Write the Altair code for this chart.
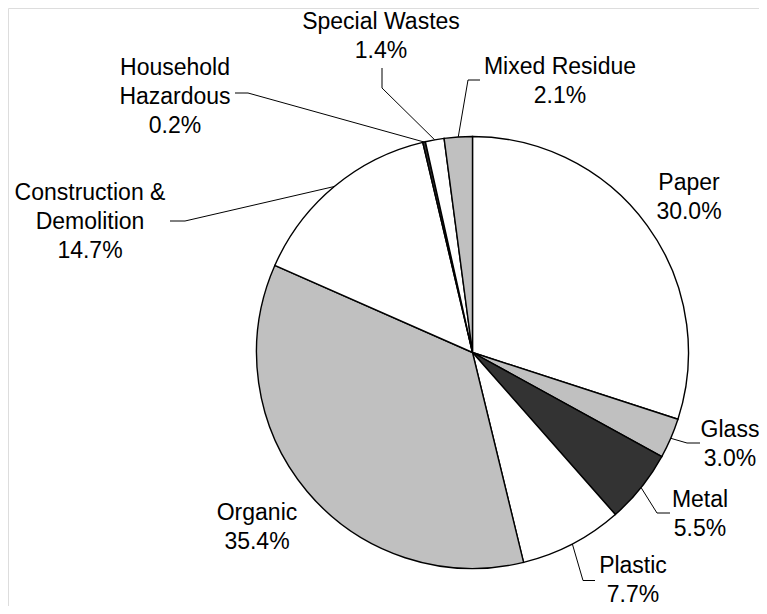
import math
import altair as alt
import pandas as pd

# ---- data ----
categories = ["Paper", "Glass", "Metal", "Plastic", "Organic",
              "Construction & Demolition", "Household Hazardous",
              "Special Wastes", "Mixed Residue"]
percent = [30.0, 3.0, 5.5, 7.7, 35.4, 14.7, 0.2, 1.4, 2.1]
shade = ["white", "gray", "dark", "white", "gray", "white", "dark", "white", "gray"]

# ---- layout / style ----
palette = {"white": "#ffffff", "gray": "#c0c0c0", "dark": "#333333"}
label_names = {"Construction & Demolition": "Construction &\nDemolition",
               "Household Hazardous": "Household\nHazardous"}
W, H = 751, 598
CX, CY, R = 464.5, 344.5, 216
FS, LH = 23, 29
# label block centre, offset from pie centre
label_off = {
    "Paper": (216.5, -156.5), "Glass": (257.5, 90.5), "Metal": (227.5, 160.5),
    "Plastic": (160.5, 226), "Organic": (-215.5, 173.5),
    "Construction & Demolition": (-382.5, -132.5),
    "Household Hazardous": (-297.5, -257.5),
    "Special Wastes": (-91.5, -318), "Mixed Residue": (87.5, -272.5),
}
# leader lines: rim point (from data) -> elbow -> end, offsets from pie centre
leader_off = {
    "Glass": [(214.5, 90.5), (227.5, 90.5)],
    "Metal": [(184.5, 160.5), (197.5, 160.5)],
    "Plastic": [(110.5, 228), (122.5, 228)],
    "Construction & Demolition": [(-287.5, -131.5), (-302.5, -131.5)],
    "Household Hazardous": [(-224.5, -259.5), (-237.5, -259.5)],
    "Special Wastes": [(-90.5, -264.5), (-90.5, -284.5)],
    "Mixed Residue": [(-4.5, -272.5), (7.5, -272.5)],
}

total = sum(percent)
rows, lrows = [], []
cum = 0.0
for i, (c, p, s) in enumerate(zip(categories, percent, shade)):
    mid = (cum + p / 2) / total * 2 * math.pi
    cum += p
    lx, ly = label_off[c]
    text = f"{label_names.get(c, c)}\n{p:.1f}%"
    n = text.count("\n") + 1
    rows.append({"idx": i, "name": c, "percent": p, "fill": palette[s],
                 "label": text,
                 "lx": CX + lx, "ly": CY + ly - (n - 1) / 2 * LH + 1.5})
    if c in leader_off:
        pts = [(R * math.sin(mid), -R * math.cos(mid))] + leader_off[c]
        for k, (dx, dy) in enumerate(pts):
            lrows.append({"name": c, "k": k, "x": CX + dx, "y": CY + dy})

df = pd.DataFrame(rows)
ldf = pd.DataFrame(lrows)

arcs = alt.Chart(df).mark_arc(stroke="black", strokeWidth=1.4, outerRadius=R).encode(
    theta=alt.Theta("percent:Q", stack=True),
    order=alt.Order("idx:Q"),
    fill=alt.Fill("fill:N", scale=None),
    x=alt.value(CX), y=alt.value(CY),
)

leaders = alt.Chart(ldf).mark_line(color="black", strokeWidth=1).encode(
    x=alt.X("x:Q", scale=None, axis=None),
    y=alt.Y("y:Q", scale=None, axis=None),
    detail="name:N",
    order="k:Q",
)

labels = alt.Chart(df).mark_text(
    font="Liberation Sans", fontSize=FS, lineHeight=LH, lineBreak="\n",
    align="center", baseline="middle", color="black",
).encode(
    x=alt.X("lx:Q", scale=None, axis=None),
    y=alt.Y("ly:Q", scale=None, axis=None),
    text="label:N",
)

chart = alt.layer(arcs, leaders, labels).properties(
    width=W, height=H, padding=0, autosize="none"
).configure_view(stroke=None).configure(background="white")

chart.save("out.html", embed_options={"renderer": "svg", "actions": False})
